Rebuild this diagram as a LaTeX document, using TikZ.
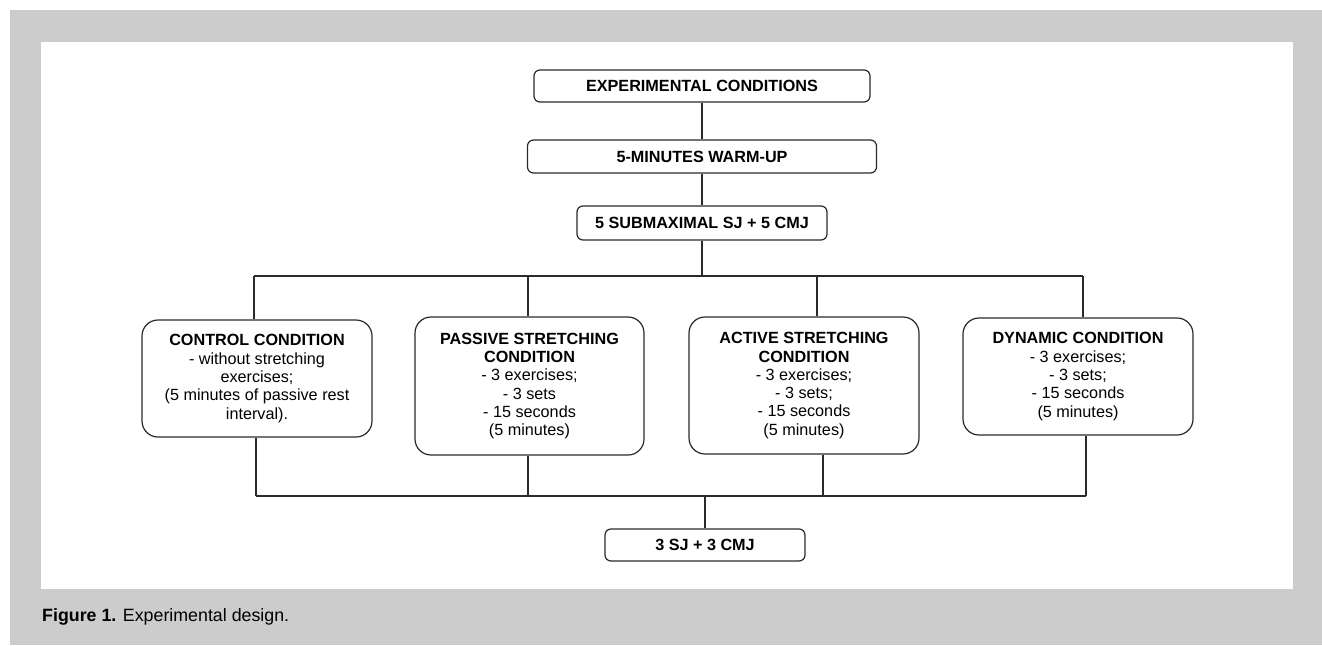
\documentclass[tikz,border=0pt]{standalone}
\usepackage{fontspec}
\setmainfont{Liberation Sans}
\definecolor{framegray}{HTML}{CCCCCC}
\definecolor{linec}{HTML}{2A2A2A}
\begin{document}
\begin{tikzpicture}[x=1pt,y=-1pt,
  boxbase/.style={draw=linec, line width=1.2pt, fill=white, align=center, inner sep=0pt,
    font=\fontsize{16.2}{18.3}\selectfont, text=black},
  smallbox/.style={boxbase, rounded corners=6pt},
  bigbox/.style={boxbase, rounded corners=16pt},
  conn/.style={draw=linec, line width=1.2pt}]
\useasboundingbox (0,0) rectangle (1322,645);
\fill[white] (0,0) rectangle (1322,645);
\fill[framegray] (10,10) rectangle (1322,645);
\fill[white] (41,42) rectangle (1293,589);

\node[smallbox, minimum width=336pt, minimum height=32pt] (ec) at (702,86) {\textbf{EXPERIMENTAL CONDITIONS}};
\node[smallbox, minimum width=349pt, minimum height=33pt] (wu) at (702,156.5) {\textbf{5-MINUTES WARM-UP}};
\node[smallbox, minimum width=250pt, minimum height=34pt] (sub) at (702,223) {\textbf{5 SUBMAXIMAL SJ + 5 CMJ}};

\node[bigbox, minimum width=230pt, minimum height=117pt] (ctrl) at (257,378.5)
  {\textbf{CONTROL CONDITION}\\- without stretching\\exercises;\\(5 minutes of passive rest\\interval).};
\node[bigbox, minimum width=229pt, minimum height=138pt] (pas) at (529.5,386)
  {\textbf{PASSIVE STRETCHING}\\\textbf{CONDITION}\\- 3 exercises;\\- 3 sets\\- 15 seconds\\(5 minutes)};
\node[bigbox, minimum width=230pt, minimum height=137pt] (act) at (804,385.5)
  {\textbf{ACTIVE STRETCHING}\\\textbf{CONDITION}\\- 3 exercises;\\- 3 sets;\\- 15 seconds\\(5 minutes)};
\node[bigbox, minimum width=230pt, minimum height=117pt] (dyn) at (1078,376.5)
  {\textbf{DYNAMIC CONDITION}\\- 3 exercises;\\- 3 sets;\\- 15 seconds\\(5 minutes)};

\node[smallbox, minimum width=200pt, minimum height=32pt] (fin) at (705,545) {\textbf{3 SJ + 3 CMJ}};

\draw[conn] (ec) -- (wu);
\draw[conn] (wu) -- (sub);

\coordinate (t1) at (254,276);
\coordinate (t2) at (528,276);
\coordinate (t3) at (817,276);
\coordinate (t4) at (1083,276);
\draw[conn] (sub.south) -- (sub.south |- t1);
\draw[conn] (t1) -- (t4);
\draw[conn] (t1) -- (t1 |- ctrl.north);
\draw[conn] (t2) -- (t2 |- pas.north);
\draw[conn] (t3) -- (t3 |- act.north);
\draw[conn] (t4) -- (t4 |- dyn.north);

\coordinate (b1) at (256,496);
\coordinate (b2) at (528,496);
\coordinate (b3) at (823,496);
\coordinate (b4) at (1086,496);
\coordinate (bm) at (705,496);
\draw[conn] (b1 |- ctrl.south) -- (b1);
\draw[conn] (b2 |- pas.south) -- (b2);
\draw[conn] (b3 |- act.south) -- (b3);
\draw[conn] (b4 |- dyn.south) -- (b4);
\draw[conn] (b1) -- (b4);
\draw[conn] (bm) -- (bm |- fin.north);

\node[anchor=base west, inner sep=0pt, font=\fontsize{17.8}{20}\selectfont] (cap) at (42,621)
  {\textbf{Figure 1.} Experimental design.};
\end{tikzpicture}
\end{document}
